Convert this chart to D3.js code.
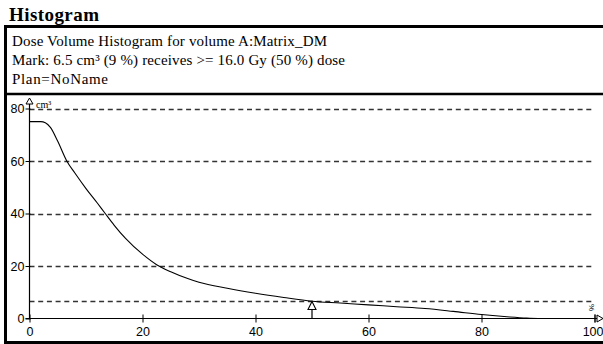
<!DOCTYPE html>
<html><head><meta charset="utf-8">
<script src="https://cdn.jsdelivr.net/npm/d3@7"></script>
<style>
html,body{margin:0;padding:0;background:#fff;}
svg{display:block;}
</style></head>
<body>
<script>
// ---- data ----
const dosePct = [0, 1, 2, 2.8, 3.7, 5, 6.6, 8, 10, 12, 13.4, 15, 17, 20, 22.5, 25, 28, 30, 35, 40, 45, 50, 55, 60, 65, 70, 75, 80, 85, 88, 91];
const volume  = [75, 75, 75, 74.6, 72.8, 67.5, 60, 55.5, 49.5, 44, 40, 35.5, 30.5, 24.5, 20.5, 17.8, 15.2, 13.8, 11.5, 9.6, 8, 6.6, 5.9, 5.2, 4.5, 3.8, 2.7, 1.5, 0.6, 0.2, 0];
const yTicks = [0, 20, 40, 60, 80];
const xTicks = [0, 20, 40, 60, 80, 100];
const markDose = 50;
const markVolume = 6.5;
const titleText = "Histogram";
const infoLines = [
  "Dose Volume Histogram for volume A:Matrix_DM",
  "Mark: 6.5 cm\u00B3 (9 %) receives >= 16.0 Gy (50 %) dose",
  "Plan=NoName"
];
const yUnit = "cm\u00B3";
const xUnit = "%";

// ---- drawing ----
const SERIF = "'Liberation Serif'";
const SANS = "'Liberation Sans'";
const W = 603, H = 344;
const svg = d3.select("body").append("svg").attr("width", W).attr("height", H);

const x = d3.scaleLinear().domain([0, 100]).range([29.5, 594.5]);
const y = d3.scaleLinear().domain([0, 80]).range([318.5, 108.5]);

function fitSpacing(sel, target) {
  const n = sel.text().length;
  const len = sel.node().getComputedTextLength();
  if (n > 1 && len > 0) sel.style("letter-spacing", ((target - len) / (n - 1)) + "px");
}

// title
const title = svg.append("text").attr("x", 9).attr("y", 21)
  .style("font-family", SERIF).style("font-weight", "bold").style("font-size", "19px")
  .text(titleText);
fitSpacing(title, 90);

// frame
svg.append("line").attr("x1", 4).attr("x2", W).attr("y1", 26.5).attr("y2", 26.5)
  .attr("stroke", "#000").attr("stroke-width", 3);
svg.append("line").attr("x1", 5.5).attr("x2", 5.5).attr("y1", 25).attr("y2", H)
  .attr("stroke", "#000").attr("stroke-width", 3);
svg.append("line").attr("x1", 4).attr("x2", W).attr("y1", 94).attr("y2", 94)
  .attr("stroke", "#000").attr("stroke-width", 2.5);
svg.append("line").attr("x1", 4).attr("x2", W).attr("y1", 342.5).attr("y2", 342.5)
  .attr("stroke", "#000").attr("stroke-width", 3);

// info lines
const infoWidths = [315, 333, 96];
infoLines.forEach((t, i) => {
  const tx = svg.append("text").attr("x", 12).attr("y", 46 + i * 19)
    .style("font-family", SERIF).style("font-size", "15px")
    .text(t);
  fitSpacing(tx, infoWidths[i]);
});

const g = svg.append("g");

// grid lines (dashed)
g.selectAll("line.grid").data(yTicks.filter(d => d > 0).concat([markVolume]))
  .enter().append("line").attr("class", "grid")
  .attr("x1", x(0)).attr("x2", x(99.6))
  .attr("y1", d => Math.round(y(d)) + 0.5).attr("y2", d => Math.round(y(d)) + 0.5)
  .attr("stroke", "#333").attr("stroke-width", 1.3)
  .attr("stroke-dasharray", "5,3.7");

// axes
const yAxis = g.append("g").attr("transform", `translate(${x(0)},0)`)
  .call(d3.axisLeft(y).tickValues(yTicks).tickSize(4).tickPadding(1).tickFormat(d3.format("d")));
const xAxis = g.append("g").attr("transform", `translate(0,${y(0)})`)
  .call(d3.axisBottom(x).tickValues(xTicks).tickSize(4).tickPadding(5).tickFormat(d3.format("d")));
[yAxis, xAxis].forEach(a => {
  a.select(".domain").remove();
  a.attr("font-family", null).attr("font-size", null);
  a.selectAll("text").style("font-family", SANS).style("font-size", "12.5px").attr("fill", "#000");
  a.selectAll("line").attr("stroke", "#000");
});
xAxis.selectAll(".tick line").attr("y1", -4).attr("y2", 4);
yAxis.selectAll(".tick line").attr("x1", -4).attr("x2", 1);
// keep the last x label inside the window
xAxis.selectAll(".tick text").filter(d => d === 100).attr("text-anchor", "end").attr("x", 603 - x(100));

// axis lines
g.append("line").attr("x1", x(0)).attr("x2", x(0)).attr("y1", 100).attr("y2", y(0))
  .attr("stroke", "#000").attr("stroke-width", 1.2);
g.append("line").attr("x1", x(0) - 4).attr("x2", 597).attr("y1", y(0)).attr("y2", y(0))
  .attr("stroke", "#000").attr("stroke-width", 1.2);
// y axis arrow
g.append("path").attr("d", `M${x(0)},98 L${x(0) - 3.5},104 L${x(0) + 3.5},104 Z`)
  .attr("fill", "#fff").attr("stroke", "#000").attr("stroke-width", 1);
// x axis arrow
g.append("path").attr("d", `M603,${y(0)} L597,${y(0) - 3.5} L597,${y(0) + 3.5} Z`)
  .attr("fill", "#fff").attr("stroke", "#000").attr("stroke-width", 1);
g.append("line").attr("x1", 595).attr("x2", 595).attr("y1", y(0) - 4).attr("y2", y(0) + 4)
  .attr("stroke", "#000");
// units
g.append("text").attr("x", 36).attr("y", 108)
  .style("font-family", SERIF).style("font-size", "10px").text(yUnit);
g.append("text").attr("x", 590).attr("y", 309)
  .style("font-family", SANS).style("font-size", "8px")
  .attr("transform", "rotate(90,592,306)").text(xUnit);

// curve
const pts = dosePct.map((d, i) => [d, volume[i]]);
g.append("path").datum(pts)
  .attr("d", d3.line().x(d => x(d[0])).y(d => y(d[1])).curve(d3.curveMonotoneX))
  .attr("fill", "none").attr("stroke", "#000").attr("stroke-width", 1.1);

// mark
const mx = x(markDose), my = y(markVolume);
g.append("line").attr("x1", mx).attr("x2", mx).attr("y1", my + 8).attr("y2", y(0))
  .attr("stroke", "#000").attr("stroke-width", 1.2);
g.append("path").attr("d", `M${mx},${my} L${mx - 4},${my + 8} L${mx + 4},${my + 8} Z`)
  .attr("fill", "#fff").attr("stroke", "#000").attr("stroke-width", 1.1);
</script>
</body></html>
